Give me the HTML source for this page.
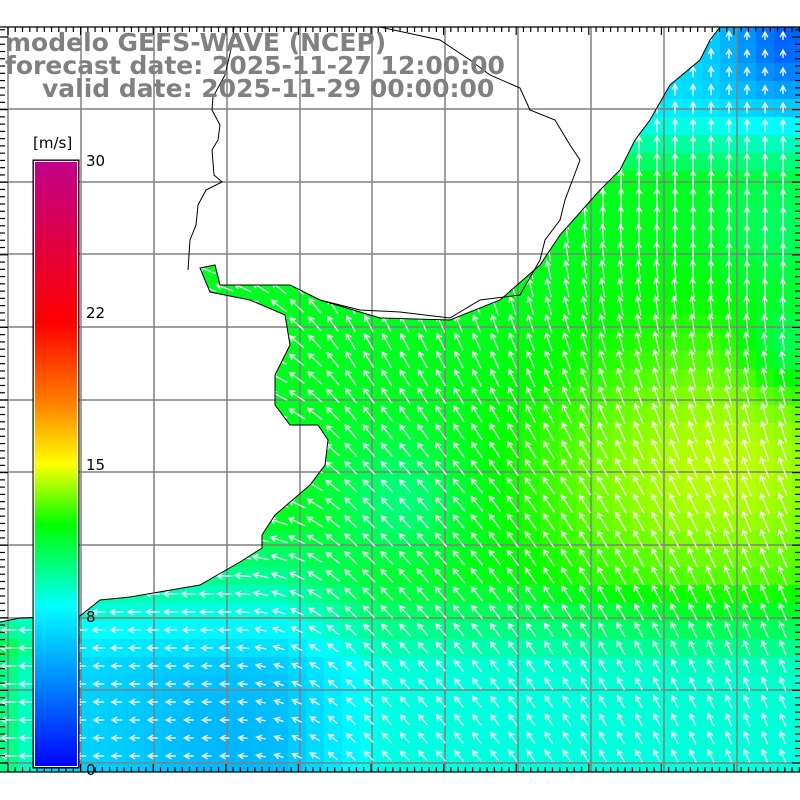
<!DOCTYPE html>
<html><head><meta charset="utf-8"><style>
html,body{margin:0;padding:0;background:#fff;width:800px;height:800px;overflow:hidden}
svg{display:block}
.t{font-family:"DejaVu Sans","Liberation Sans",sans-serif;font-weight:bold;font-size:25px;fill:#808080}
.c{font-family:"DejaVu Sans","Liberation Sans",sans-serif;font-size:15px;fill:#000}
</style></head><body>
<svg id="s" width="800" height="800" xmlns="http://www.w3.org/2000/svg">
<defs>
<clipPath id="oc"><polygon points="0,772 0,622 20,618 80,616 100,600 130,597 200,585 240,562 262,548 262,535 275,515 310,485 325,465 328,440 318,425 290,425 275,405 275,375 290,345 285,315 250,300 210,292 200,268 215,265 220,285 290,285 320,300 380,318 450,320 500,300 540,265 560,235 600,190 620,170 635,140 650,120 670,85 700,60 710,40 720,27 800,27 800,772"/></clipPath>
<linearGradient id="cb" x1="0" y1="1" x2="0" y2="0">
<stop offset="0" stop-color="#0000ff"/><stop offset="0.133" stop-color="#0080ff"/><stop offset="0.267" stop-color="#00ffff"/><stop offset="0.4" stop-color="#00ff00"/><stop offset="0.5" stop-color="#ffff00"/><stop offset="0.6" stop-color="#ff8000"/><stop offset="0.733" stop-color="#ff0000"/><stop offset="1" stop-color="#c0008a"/>
</linearGradient>
</defs>
<g id="cells" clip-path="url(#oc)"></g>
<g id="grid" stroke="#808080" stroke-width="1.5" fill="none"></g>
<g id="arr" stroke="#fff" stroke-width="1.3" fill="none" clip-path="url(#oc)"></g>
<polyline points="0,622 20,618 80,616 100,600 130,597 200,585 240,562 262,548 262,535 275,515 310,485 325,465 328,440 318,425 290,425 275,405 275,375 290,345 285,315 250,300 210,292 200,268 215,265 220,285 290,285 320,300 380,318 450,320 500,300 540,265 560,235 600,190 620,170 635,140 650,120 670,85 700,60 710,40 720,27" fill="none" stroke="#000" stroke-width="1"/>
<polyline points="234,27 232,45 225,75 213,97 212,110 220,125 218,140 212,150 214,175 222,182 206,190 198,205 196,225 190,240 188,270" fill="none" stroke="#000" stroke-width="1"/>
<polyline points="320,300 360,310 400,312 450,318 480,300 520,295 540,260 545,240 560,220 565,200 580,160 570,145 555,120 530,110 520,88 490,75 470,60 440,40 380,27" fill="none" stroke="#000" stroke-width="1"/>
<g id="ticks" stroke="#000" stroke-width="1.2"></g>
<rect x="33" y="160" width="46" height="608" fill="url(#cb)" stroke="#000" stroke-width="1"/>
<rect x="34.5" y="161.5" width="43" height="605" fill="none" stroke="#fff" stroke-width="1"/>
<text class="c" x="33" y="148">[m/s]</text>
<text class="c" x="86" y="166">30</text>
<text class="c" x="86" y="318">22</text>
<text class="c" x="86" y="470">15</text>
<text class="c" x="86" y="622">8</text>
<text class="c" x="86" y="775">0</text>
<text class="t" x="5" y="51">modelo GEFS-WAVE (NCEP)</text>
<text class="t" x="5" y="74">forecast date: 2025-11-27 12:00:00</text>
<text class="t" x="42" y="97">valid date: 2025-11-29 00:00:00</text>
</svg>
<script>
function g(x,y,cx,cy,r){var d=((x-cx)*(x-cx)+(y-cy)*(y-cy))/(r*r);return Math.exp(-d);}
function cl(v){return Math.max(0,Math.min(1,v));}
function spd(x,y){
var s=11.5;
s+=2.5*g(x,y,750,465,150)+1.0*g(x,y,600,480,110);
s-=1.5*g(x,y,400,500,60);
s-=3.0*cl((y-580)/90);
s-=1.8*cl((380-x)/100)*cl((y-520)/60);
s-=1.0*g(x,y,230,740,100);
s+=3.2*cl((45-x)/25)*cl((y-620)/20);
s-=4.5*cl((180-y)/80)*cl((x-560)/40);
s-=4*g(x,y,790,40,60);
s-=2*g(x,y,790,350,45);
s-=1.2*g(x,y,780,230,70);
return s;}
var st=[[0,[0,0,255]],[4,[0,128,255]],[8,[0,255,255]],[12,[0,255,0]],[15,[255,255,0]],[18,[255,128,0]],[22,[255,0,0]],[30,[192,0,138]]];
function col(v){if(v<=0)v=0;for(var i=0;i<st.length-1;i++){var a=st[i],b=st[i+1];if(v<=b[0]){var t=(v-a[0])/(b[0]-a[0]);var c=a[1].map(function(q,k){return Math.round(q+(b[1][k]-q)*t)});return "rgb("+c.join(",")+")";}}return "rgb(192,0,138)";}
var h="";
for(var y=27;y<772;y+=18)for(var x=0;x<800;x+=18){h+='<rect x="'+x+'" y="'+y+'" width="18.5" height="18.5" fill="'+col(spd(x+9,y+9))+'"/>';}
document.getElementById("cells").innerHTML=h;
var gr="";var gx=[8,81,154,227,300,372,445,518,591,664,737],gy=[109,182,254,327,400,472,545,618,690,763];
gx.forEach(function(v){gr+='<line x1="'+v+'" y1="27" x2="'+v+'" y2="772"/>'});
gy.forEach(function(v){gr+='<line x1="0" y1="'+v+'" x2="800" y2="'+v+'"/>'});
document.getElementById("grid").innerHTML=gr;
var ar="";
for(var y=36;y<772;y+=18)for(var x=9;x<800;x+=18){
var t=0.5*cl((x-230)/120)+0.25*cl((x-350)/400)+0.35*cl((480-y)/300);t=cl(t);
var th=(180-90*t)*Math.PI/180;var L=Math.max(8,spd(x,y)*1.6);
var dx=Math.cos(th)*L/2,dy=-Math.sin(th)*L/2;
var x1=x-dx,y1=y-dy,x2=x+dx,y2=y+dy;
var a1=th+Math.PI-0.5,a2=th+Math.PI+0.5,hl=6;
ar+='<path d="M'+x1.toFixed(1)+','+y1.toFixed(1)+'L'+x2.toFixed(1)+','+y2.toFixed(1)+'M'+(x2+Math.cos(a1)*hl).toFixed(1)+','+(y2-Math.sin(a1)*hl).toFixed(1)+'L'+x2.toFixed(1)+','+y2.toFixed(1)+'L'+(x2+Math.cos(a2)*hl).toFixed(1)+','+(y2-Math.sin(a2)*hl).toFixed(1)+'"/>';}
document.getElementById("arr").innerHTML=ar;
var tk='<line x1="0" y1="27" x2="800" y2="27"/><line x1="0" y1="772" x2="800" y2="772"/>';
for(var i=0;i<110;i++){var x=8+i*7.26;if(x>800)break;var l=(i%10==0)?8:5;
tk+='<line x1="'+x+'" y1="27" x2="'+x+'" y2="'+(27+l)+'"/><line x1="'+x+'" y1="772" x2="'+x+'" y2="'+(772-l)+'"/>';}
for(var i=0;i<110;i++){var y=763-i*7.26;if(y<27)break;var l=(i%10==0)?8:5;
tk+='<line x1="0" y1="'+y+'" x2="'+l+'" y2="'+y+'"/><line x1="800" y1="'+y+'" x2="'+(800-l)+'" y2="'+y+'"/>';}
document.getElementById("ticks").innerHTML=tk;
</script>
</body></html>
